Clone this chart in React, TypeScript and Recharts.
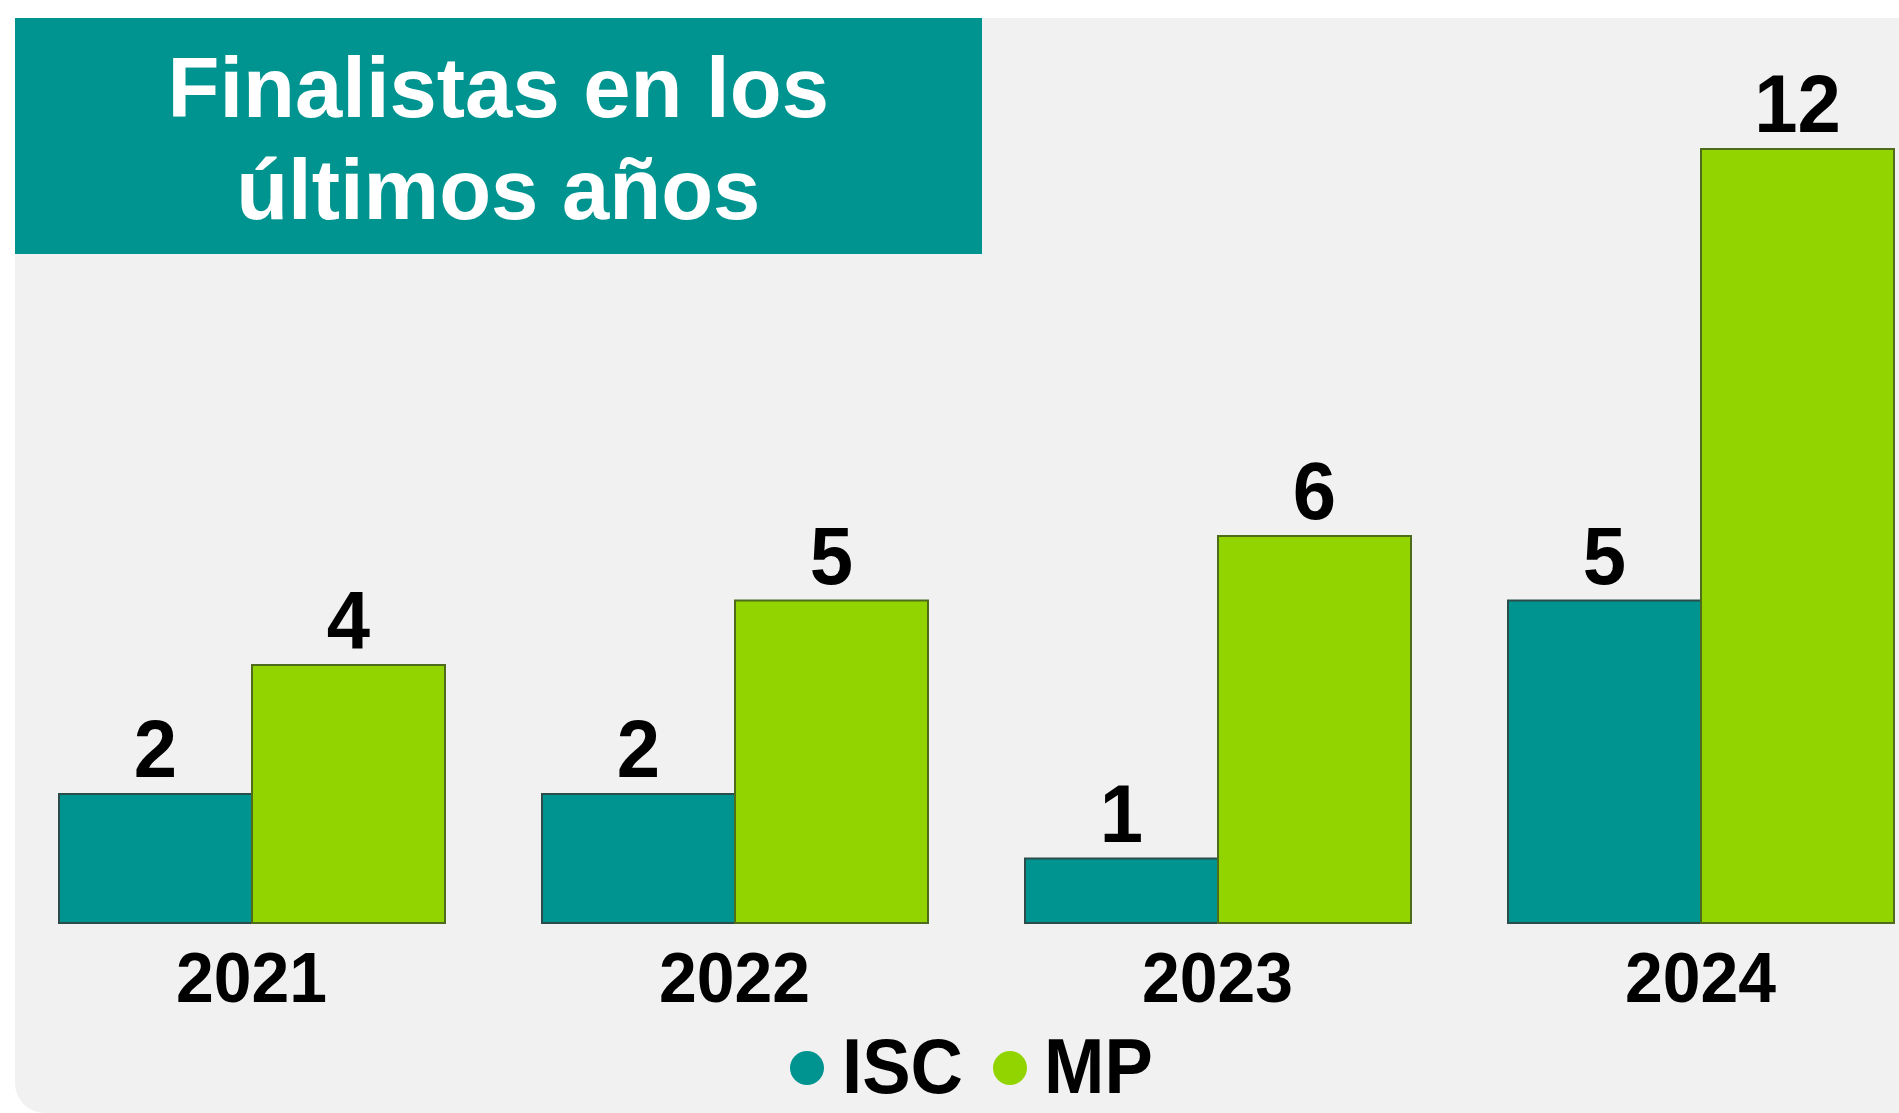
import { BarChart, Bar, XAxis, YAxis, LabelList } from 'recharts';

const years = ['2021', '2022', '2023', '2024'];
const iscValues = [2, 2, 1, 5];
const mpValues = [4, 5, 6, 12];

const TEAL = '#009490';
const GREEN = '#92d400';
const FONT = '"Liberation Sans", Arial, sans-serif';

const data = years.map((y, i) => ({ year: y, ISC: iscValues[i], MP: mpValues[i] }));

function ValueLabel(props: any) {
  const { x, y, width, value } = props;
  const cx = Number(x) + Number(width) / 2;
  const by = Number(y) - 17;
  return (
    <text
      transform={`translate(${cx},${by}) scale(0.95,1)`}
      textAnchor="middle"
      fontFamily={FONT}
      fontWeight="bold"
      fontSize={82}
      fill="#000"
    >
      {value}
    </text>
  );
}

function YearTick(props: any) {
  const { x, y, payload } = props;
  return (
    <text
      transform={`translate(${x},${y + 79}) scale(0.97,1)`}
      textAnchor="middle"
      fontFamily={FONT}
      fontWeight="bold"
      fontSize={70}
      fill="#000"
    >
      {payload.value}
    </text>
  );
}

// legend drawn by hand, below the chart
function SeriesLegend() {
  return (
    <svg width={1899} height={110} style={{ position: 'absolute', left: 0, top: 1010, display: 'block' }}>
      <circle cx={807} cy={58} r={17} fill={TEAL} />
      <text transform="translate(842,83) scale(0.93,1)" fontFamily={FONT} fontWeight="bold" fontSize={78} fill="#000">ISC</text>
      <circle cx={1010} cy={58} r={17} fill={GREEN} />
      <text transform="translate(1044,83) scale(0.93,1)" fontFamily={FONT} fontWeight="bold" fontSize={78} fill="#000">MP</text>
    </svg>
  );
}

export default function App() {
  return (
    <div style={{ position: 'absolute', left: 0, top: 0, width: 1899, height: 1113, background: '#fff', overflow: 'hidden' }}>
      <div style={{
        position: 'absolute', left: 14.5, top: 18, width: 1885, height: 1095,
        background: '#f1f1f1', borderBottomLeftRadius: 30,
      }} />
      <div style={{
        position: 'absolute', left: 14.5, top: 18, width: 967.5, height: 236,
        background: TEAL, boxSizing: 'border-box', paddingTop: 18.6,
        color: '#fff', fontFamily: FONT, fontWeight: 'bold', fontSize: 85,
        lineHeight: '102px', textAlign: 'center',
      }}>
        Finalistas en los<br />últimos años
      </div>
      <div style={{ position: 'absolute', left: 0, top: 0 }}>
        <BarChart
          width={1899}
          height={1113}
          data={data}
          margin={{ top: 149, right: -43, left: 10, bottom: 130 }}
          barGap={0}
          barSize={193}
        >
          <XAxis
            dataKey="year"
            axisLine={false}
            tickLine={false}
            tickSize={0}
            tickMargin={0}
            height={60}
            interval={0}
            tick={<YearTick />}
          />
          <YAxis hide domain={[0, 12]} />
          <Bar dataKey="ISC" fill={TEAL} stroke="#2a4d4c" strokeWidth={2} isAnimationActive={false}>
            <LabelList dataKey="ISC" content={<ValueLabel />} />
          </Bar>
          <Bar dataKey="MP" fill={GREEN} stroke="#4f6b1c" strokeWidth={2} isAnimationActive={false}>
            <LabelList dataKey="MP" content={<ValueLabel />} />
          </Bar>
        </BarChart>
      </div>
      <SeriesLegend />
    </div>
  );
}
